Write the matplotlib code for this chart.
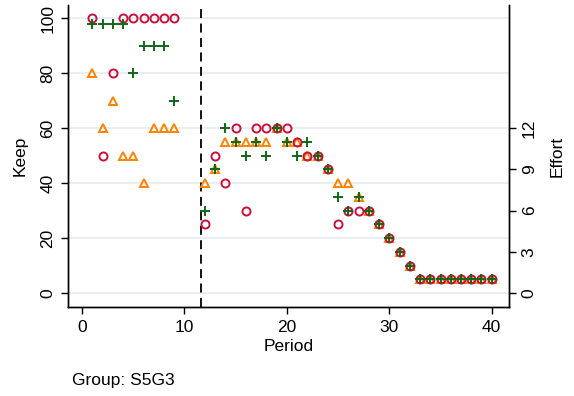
import matplotlib
matplotlib.use("Agg")
import matplotlib.pyplot as plt

plt.rcParams['font.family'] = ['Liberation Sans', 'DejaVu Sans']

# Phase 1 (Keep)
periods1 = [1, 2, 3, 4, 5, 6, 7, 8, 9]
keep_red = [100, 50, 80, 100, 100, 100, 100, 100, 100]
keep_green = [98, 98, 98, 98, 80, 90, 90, 90, 70]
keep_orange = [80, 60, 70, 50, 50, 40, 60, 60, 60]

# Phase 2 (Effort)
periods2 = list(range(12, 41))
eff_red = [5, 10, 8, 12, 6, 12, 12, 12, 12, 11, 10, 10, 9, 5, 6, 6, 6, 5, 4, 3, 2, 1, 1, 1, 1, 1, 1, 1, 1]
eff_green = [6, 9, 12, 11, 10, 11, 10, 12, 11, 10, 11, 10, 9, 7, 6, 7, 6, 5, 4, 3, 2, 1, 1, 1, 1, 1, 1, 1, 1]
eff_orange = [8, 9, 11, 11, 11, 11, 11, 12, 11, 11, 10, 10, 9, 8, 8, 7, 6, 5, 4, 3, 2, 1, 1, 1, 1, 1, 1, 1, 1]

switch_period = 11.6
keep_ticks = [0, 20, 40, 60, 80, 100]
effort_ticks = [0, 3, 6, 9, 12]
x_ticks = [0, 10, 20, 30, 40]
group_label = "Group: S5G3"

RED = '#c8103c'
GREEN = '#11661a'
ORANGE = '#ff8200'
FS = 12.5

fig = plt.figure(figsize=(5.74, 3.96), dpi=100)
ax = fig.add_axes([0.1185, 0.2247, 0.7685, 0.7623])
ax2 = ax.twinx()

ylo, yhi = -5.1, 104.7
ax.set_xlim(-1.37, 41.7)
ax.set_ylim(ylo, yhi)
ax2.set_ylim(ylo / 5, yhi / 5)

for y in keep_ticks:
    ax.axhline(y, color='#e6edf1', lw=1.3, zorder=0)

ms = 5.8
mew = 1.4
ax.plot(periods1, keep_orange, linestyle='none', marker='^', ms=ms, mfc='none', mec=ORANGE, mew=mew, zorder=3)
ax.plot(periods1, keep_red, linestyle='none', marker='o', ms=ms, mfc='none', mec=RED, mew=mew, zorder=4)
ax.plot(periods1, keep_green, linestyle='none', marker='+', ms=ms + 1.5, mec=GREEN, mew=mew, zorder=5)

ax2.plot(periods2, eff_orange, linestyle='none', marker='^', ms=ms, mfc='none', mec=ORANGE, mew=mew, zorder=3)
ax2.plot(periods2, eff_red, linestyle='none', marker='o', ms=ms, mfc='none', mec=RED, mew=mew, zorder=4)
ax2.plot(periods2, eff_green, linestyle='none', marker='+', ms=ms + 1.5, mec=GREEN, mew=mew, zorder=5)

ax.axvline(switch_period, color='black', lw=1.3, linestyle=(0, (5, 3)), zorder=2)

ax.set_xticks(x_ticks)
ax.set_yticks(keep_ticks)
ax2.set_yticks(effort_ticks)

for a in (ax, ax2):
    a.spines['top'].set_visible(False)
    for s in a.spines.values():
        s.set_linewidth(1.0)
    a.tick_params(direction='out', length=5, width=1, labelsize=FS, colors='black', pad=4)

ax.tick_params(axis='y', labelrotation=90)
ax2.tick_params(axis='y', labelrotation=90)
for lab in ax.get_yticklabels():
    lab.set_va('center')
for lab in ax2.get_yticklabels():
    lab.set_va('center')

ax.set_xlabel('Period', fontsize=FS, labelpad=3)
ax.set_ylabel('Keep', fontsize=FS, labelpad=9)
ax2.set_ylabel('Effort', fontsize=FS, labelpad=9)

fig.text(0.125, 0.04, group_label, fontsize=FS, ha='left', va='center')

fig.savefig('out.png', dpi=100)
